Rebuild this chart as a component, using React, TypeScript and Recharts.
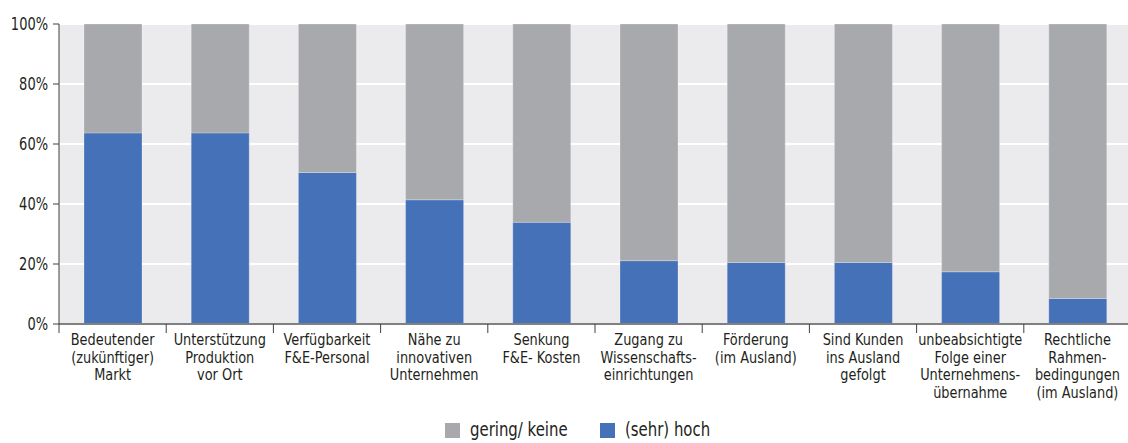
import React from 'react';
import { BarChart, Bar, XAxis, YAxis, CartesianGrid, Legend } from 'recharts';

const categories: string[][] = [
  ['Bedeutender', '(zukünftiger)', 'Markt'],
  ['Unterstützung', 'Produktion', 'vor Ort'],
  ['Verfügbarkeit', 'F&E-Personal'],
  ['Nähe zu', 'innovativen', 'Unternehmen'],
  ['Senkung', 'F&E- Kosten'],
  ['Zugang zu', 'Wissenschafts-', 'einrichtungen'],
  ['Förderung', '(im Ausland)'],
  ['Sind Kunden', 'ins Ausland', 'gefolgt'],
  ['unbeabsichtigte', 'Folge einer', 'Unternehmens-', 'übernahme'],
  ['Rechtliche', 'Rahmen-', 'bedingungen', '(im Ausland)'],
];

const hoch: number[] = [63.7, 63.7, 50.5, 41.4, 33.9, 21.1, 20.5, 20.5, 17.4, 8.5];
const gering: number[] = [36.3, 36.3, 49.5, 58.6, 66.1, 78.9, 79.5, 79.5, 82.6, 91.5];
const yTicks: number[] = [0, 20, 40, 60, 80, 100];

const seriesNames = { gering: 'gering/ keine', hoch: '(sehr) hoch' };
const BLUE = '#4471b8';
const GRAY = '#a8a9ac';

const data = categories.map((c, i) => ({
  name: c.join('\n'),
  hoch: hoch[i],
  gering: gering[i],
}));

const FONT = '"DejaVu Sans Condensed", "Liberation Sans Narrow", sans-serif';
const CHART_W = 1132;
const Y_W = 59;
const M_RIGHT = 1;
const BAND = (CHART_W - Y_W - M_RIGHT) / categories.length;
const SX = 0.87;

const XTick = (props: any) => {
  const { x, y, payload } = props;
  const lines: string[] = String(payload.value).split('\n');
  const bx = x - BAND / 2;
  return (
    <g>
      <line x1={bx} x2={bx} y1={y} y2={y + 9} stroke="#404040" strokeWidth={1} />
      <g transform={`translate(${x},${y}) scale(${SX},1)`}>
        <text x={0} y={21} textAnchor="middle" fill="#231f20" fontSize={16.5} fontFamily={FONT}>
          {lines.map((l, i) => (
            <tspan key={i} x={0} dy={i === 0 ? 0 : 17.7}>
              {l}
            </tspan>
          ))}
        </text>
      </g>
    </g>
  );
};

const YTick = (props: any) => {
  const { x, y, payload } = props;
  return (
    <g transform={`translate(${x},${y}) scale(0.85,1)`}>
      <text x={0} y={0} dy="0.36em" textAnchor="end" fill="#231f20" fontSize={17} fontFamily={FONT}>
        {`${payload.value}%`}
      </text>
    </g>
  );
};

const renderLegend = () => {
  const items = [
    { label: seriesNames.gering, color: GRAY, left: 0 },
    { label: seriesNames.hoch, color: BLUE, left: 155 },
  ];
  return (
    <div style={{ position: 'relative', width: 300, height: 22, fontFamily: FONT, fontSize: 19.5, color: '#231f20' }}>
      {items.map((it, i) => (
        <React.Fragment key={i}>
          <div style={{ position: 'absolute', left: it.left, top: 3, width: 15, height: 15, background: it.color }} />
          <span
            style={{
              position: 'absolute',
              left: it.left + 25,
              top: 0,
              lineHeight: '20px',
              whiteSpace: 'nowrap',
              transform: 'scaleX(0.85)',
              transformOrigin: 'left center',
            }}
          >
            {it.label}
          </span>
        </React.Fragment>
      ))}
    </div>
  );
};

export default function App() {
  return (
    <div style={{ position: 'absolute', left: 0, top: 0, width: 1128, height: 443, overflow: 'hidden', background: '#fff' }}>
      <BarChart
        width={CHART_W}
        height={443}
        data={data}
        margin={{ top: 24, right: M_RIGHT, left: 0, bottom: 0 }}
        barSize={58}
      >
        <CartesianGrid fill="#ebebed" vertical={false} stroke="#ffffff" strokeWidth={2} />
        <XAxis
          dataKey="name"
          height={119}
          interval={0}
          tickLine={false}
          tickSize={0}
          tickMargin={0}
          axisLine={{ stroke: '#808080', strokeWidth: 2 }}
          tick={<XTick />}
        />
        <YAxis
          width={Y_W}
          domain={[0, 100]}
          ticks={yTicks}
          interval={0}
          tickSize={6}
          tickMargin={5}
          axisLine={{ stroke: '#404040' }}
          tickLine={{ stroke: '#404040' }}
          tick={<YTick />}
        />
        <Legend
          layout="horizontal"
          verticalAlign="middle"
          align="center"
          wrapperStyle={{ top: 420, left: 445, width: 300, height: 22 }}
          content={renderLegend}
        />
        <Bar dataKey="hoch" name={seriesNames.hoch} stackId="a" fill={BLUE} stroke="#ffffff" strokeOpacity={0.25} isAnimationActive={false} />
        <Bar dataKey="gering" name={seriesNames.gering} stackId="a" fill={GRAY} stroke="#ffffff" strokeOpacity={0.25} isAnimationActive={false} />
      </BarChart>
    </div>
  );
}
